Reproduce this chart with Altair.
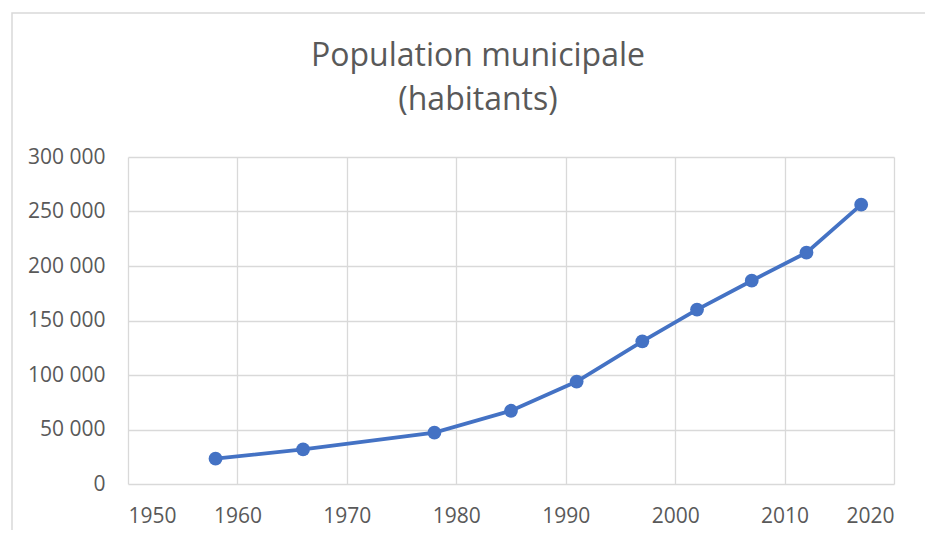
import altair as alt
import pandas as pd

years = [1958, 1966, 1978, 1985, 1991, 1997, 2002, 2007, 2012, 2017]
population = [23200, 31800, 47100, 67200, 94000, 130900, 160000, 186500, 212300, 256300]
x_ticks = [1950, 1960, 1970, 1980, 1990, 2000, 2010, 2020]
y_ticks = [0, 50000, 100000, 150000, 200000, 250000, 300000]
title_lines = ["Population municipale", "(habitants)"]

df = pd.DataFrame({"annee": years, "population": population})

FONT = "Open Sans"
GREY = "#595959"
GRID = "#d9d9d9"
BLUE = "#4472C4"

x = alt.X("annee:Q", title=None,
          scale=alt.Scale(domain=[1950, 2020], nice=False, zero=False),
          axis=alt.Axis(values=x_ticks, format="d", grid=True, gridColor=GRID, gridWidth=1.3,
                        domain=False, ticks=False, labelFont=FONT, labelFontSize=21,
                        labelColor=GREY, labelPadding=21))
y = alt.Y("population:Q", title=None,
          scale=alt.Scale(domain=[0, 300000], nice=False),
          axis=alt.Axis(values=y_ticks, grid=True, gridColor=GRID, gridWidth=1.3,
                        domain=False, ticks=False, labelFont=FONT, labelFontSize=21,
                        labelColor=GREY, labelPadding=23,
                        labelExpr="replace(format(datum.value, ','), ',', ' ')"))

frame = alt.Chart(pd.DataFrame({"a": [0]})).mark_rect(
    fill=None, stroke=GRID, strokeWidth=1.5, clip=False
).encode(x=alt.value(-116), x2=alt.value(900), y=alt.value(-144), y2=alt.value(500))

line = alt.Chart(df).mark_line(color=BLUE, strokeWidth=3.8).encode(x=x, y=y)
pts = alt.Chart(df).mark_circle(color=BLUE, opacity=1, size=190).encode(x=x, y=y)

chart = alt.layer(frame, line, pts).properties(
    width=766, height=327,
    autosize=alt.AutoSizeParams(type="none"),
    padding={"left": 120, "top": 149, "right": 31, "bottom": 46},
    title=alt.TitleParams(title_lines, anchor="middle", frame="group", dx=-33,
                          font=FONT, fontSize=32, fontWeight="normal", color=GREY,
                          lineHeight=44, offset=0, dy=105),
).configure_view(stroke=None)

chart.save("out.html", embed_options={"renderer": "svg", "actions": False})
